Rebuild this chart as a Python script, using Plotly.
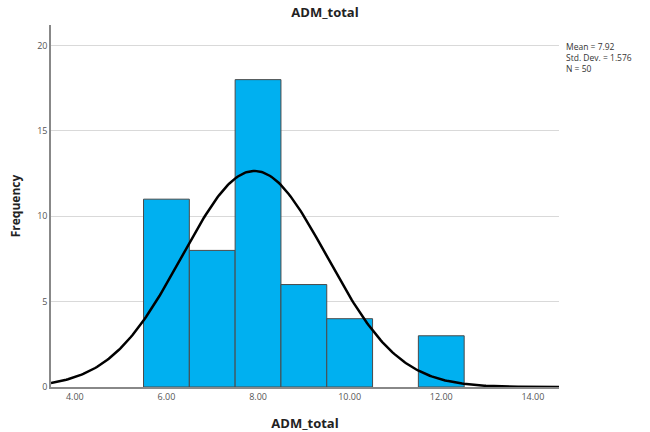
import numpy as np
import plotly.graph_objects as go

bin_left = [5.5, 6.5, 7.5, 8.5, 9.5, 11.5]
bin_right = [6.5, 7.5, 8.5, 9.5, 10.5, 12.5]
freq = [11, 8, 18, 6, 4, 3]
mean_v = 7.92
sd_v = 1.576
n_v = 50
x_ticks = [4, 6, 8, 10, 12, 14]
x_tick_text = ["4.00", "6.00", "8.00", "10.00", "12.00", "14.00"]
y_ticks = [0, 5, 10, 15, 20]

centers = [(a + b) / 2 for a, b in zip(bin_left, bin_right)]
widths = [b - a for a, b in zip(bin_left, bin_right)]

xs = np.linspace(3.48, 14.57, 300)
ys = n_v * 1.0 / (sd_v * np.sqrt(2 * np.pi)) * np.exp(-0.5 * ((xs - mean_v) / sd_v) ** 2)

fig = go.Figure()
fig.add_trace(go.Bar(x=centers, y=freq, width=widths,
                     marker=dict(color="#00B0F0", line=dict(color="#4a4a4a", width=1)),
                     hoverinfo="x+y"))
fig.add_trace(go.Scatter(x=xs, y=ys, mode="lines", line=dict(color="black", width=2.5)))

fig.update_layout(
    width=650, height=432,
    margin=dict(l=51, r=91, t=25, b=45),
    plot_bgcolor="white", paper_bgcolor="white",
    showlegend=False,
    font=dict(family="Open Sans", color="#444"),
    title=dict(text="<b>ADM_total</b>", x=0.5, xanchor="center", y=0.972, yanchor="middle",
               font=dict(size=13, color="#222")),
)
fig.update_xaxes(range=[3.48, 14.57], tickvals=x_ticks, ticktext=x_tick_text,
                 showgrid=False, showline=True, linecolor="#888", linewidth=1.5,
                 ticks="", tickfont=dict(size=9, color="#555"), automargin=False,
                 title=dict(text="<b>ADM_total</b>", font=dict(size=13, color="#222"), standoff=17),
                 zeroline=False)
fig.update_yaxes(range=[0, 21.2], tickvals=y_ticks, showgrid=True, gridcolor="#d9d9d9",
                 showline=True, linecolor="#888", linewidth=1.5, ticks="",
                 tickfont=dict(size=9, color="#555"), automargin=False,
                 title=dict(text="<b>Frequency</b>", font=dict(size=12, color="#222"), standoff=14),
                 zeroline=False)
fig.add_annotation(xref="paper", yref="paper", x=1.01, y=0.96, xanchor="left", yanchor="top",
                   align="left", showarrow=False,
                   text=f"Mean = {mean_v}<br>Std. Dev. = {sd_v}<br>N = {n_v}",
                   font=dict(size=8.5, color="#333"))
fig.write_html("out.html", config={"displayModeBar": False},
               post_script="document.body.style.margin='0';document.body.style.overflow='hidden';")
